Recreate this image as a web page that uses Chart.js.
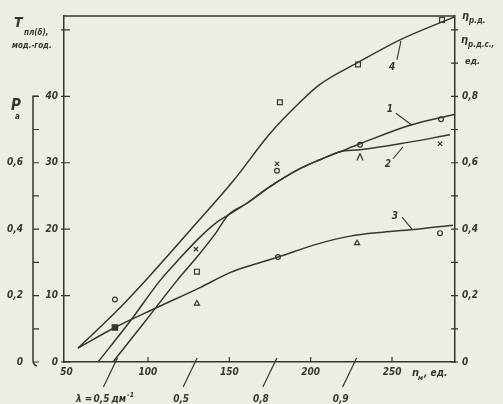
<!DOCTYPE html>
<html>
<head>
<meta charset="utf-8">
<script src="https://cdn.jsdelivr.net/npm/chart.js@4.4.0/dist/chart.umd.min.js"></script>
<style>
    html, body { margin: 0; padding: 0; background: #eeede3; }
    #wrap { width: 503px; height: 404px; }
</style>
</head>
<body>
<div id="wrap"><canvas id="chart" width="503" height="404"></canvas></div>
<script>
// n_m, units (x) and the curves
const curve4N = [57.0, 79.7, 101.2, 125.8, 152.2, 175.0, 193.4, 205.7, 229.1, 254.9, 288.7];
const curve4T = [2.1, 7.4, 13.0, 19.8, 27.2, 34.4, 39.1, 41.8, 45.1, 48.5, 52.0];

const curve1N = [69.3, 88.9, 107.4, 119.7, 132.0, 142.4, 149.2, 160.8, 175.0, 193.4, 205.7, 218.0, 230.3, 261.0, 288.7];
const curve1Eta = [0, 0.122, 0.245, 0.313, 0.376, 0.421, 0.442, 0.478, 0.528, 0.582, 0.609, 0.633, 0.657, 0.713, 0.746];

const curve2N = [78.5, 98.2, 117.8, 130.1, 141.2, 149.2, 160.8, 175.0, 193.4, 205.7, 218.0, 230.3, 254.9, 285.6];
const curve2Eta = [0, 0.122, 0.245, 0.316, 0.385, 0.442, 0.478, 0.528, 0.582, 0.609, 0.633, 0.639, 0.657, 0.684];

const curve3N = [57.0, 79.7, 105.5, 132.0, 150.4, 162.7, 179.9, 203.9, 224.2, 244.4, 265.3, 287.5];
const curve3Pa = [0.042, 0.104, 0.164, 0.224, 0.269, 0.290, 0.316, 0.355, 0.379, 0.391, 0.400, 0.412];

// measured points
const circleN = [79.7, 179.3, 179.9, 230.3, 280.1, 279.5];
const circleEta = [0.188, 0.576, 0.316, 0.654, 0.731, 0.388];
const squareN = [130.1, 181.1, 229.1, 280.7];
const squareEta = [0.272, 0.782, 0.896, 1.03];
const triangleN = [130.1, 228.5];
const triangleEta = [0.176, 0.358];
const crossN = [129.5, 179.3, 279.5];
const crossEta = [0.340, 0.597, 0.657];
const caretN = [230.3];
const caretEta = [0.618];
const filledN = [79.7];
const filledEta = [0.104];

// ticks
const xTicks = [50, 100, 150, 200, 250];
const xMarks = [100, 150, 200, 250];
const tTicks = [0, 10, 20, 30, 40, 50];
const tLabels = [0, 10, 20, 30, 40];
const etaTicks = [0, 0.1, 0.2, 0.3, 0.4, 0.5, 0.6, 0.7, 0.8, 0.9, 1.0];
const etaLabels = [0, 0.2, 0.4, 0.6, 0.8];
const paTicks = [0, 0.1, 0.2, 0.3, 0.4, 0.5, 0.6, 0.7, 0.8];
const paLabels = [0, 0.2, 0.4, 0.6];
const lambdaN = [80, 129, 178, 227];
const lambdaLabels = ['0,5', '0,5', '0,8', '0,9'];

const ink = '#36352f';
const paper = '#eeede3';
const fontFamily = '"Liberation Sans Narrow", "DejaVu Sans Condensed", "Liberation Sans", sans-serif';

function pts(xs, ys) {
    return xs.map((x, i) => ({ x: x, y: ys[i] }));
}

function comma(v) {
    return v === 0 ? '0' : v.toFixed(1).replace('.', ',');
}

function hasValue(list, v) {
    return list.some(l => Math.abs(l - v) < 1e-6);
}

// caret marker
const caret = document.createElement('canvas');
caret.width = 8;
caret.height = 8;
(function() {
    const c = caret.getContext('2d');
    c.strokeStyle = ink;
    c.lineWidth = 1.3;
    c.beginPath();
    c.moveTo(1, 7.5);
    c.lineTo(4, 0.8);
    c.lineTo(7, 7.5);
    c.stroke();
})();

function curve(data, axis) {
    return {
        data: data,
        yAxisID: axis,
        showLine: true,
        borderColor: ink,
        borderWidth: 1.5,
        pointRadius: 0,
        cubicInterpolationMode: 'monotone',
        clip: false
    };
}

function marks(data, style, radius, fill) {
    return {
        data: data,
        yAxisID: 'eta',
        showLine: false,
        pointStyle: style,
        pointRadius: radius,
        borderColor: ink,
        borderWidth: 1.2,
        backgroundColor: fill || paper,
        clip: false
    };
}

function label(ctx, s, x, y, size) {
    ctx.font = 'italic bold ' + size + 'px ' + fontFamily;
    ctx.fillText(s, x, y);
}

const decor = {
    id: 'decor',
    beforeDraw(chart) {
        const ctx = chart.ctx;
        ctx.save();
        ctx.fillStyle = paper;
        ctx.fillRect(0, 0, chart.width, chart.height);
        ctx.restore();
    },
    afterDraw(chart) {
        const ctx = chart.ctx;
        const a = chart.chartArea;
        const sx = chart.scales.x, sT = chart.scales.T, sE = chart.scales.eta, sP = chart.scales.pa;
        const X = v => sx.getPixelForValue(v);
        const E = v => sE.getPixelForValue(v);
        ctx.save();
        ctx.strokeStyle = ink;
        ctx.fillStyle = ink;
        ctx.lineWidth = 1.5;

        // top frame line
        ctx.beginPath();
        ctx.moveTo(a.left, a.top);
        ctx.lineTo(a.right, a.top);
        ctx.stroke();

        ctx.lineWidth = 1.2;
        ctx.beginPath();
        xMarks.forEach(v => { ctx.moveTo(X(v), a.bottom); ctx.lineTo(X(v), a.bottom - 5); });
        tTicks.forEach(v => { const y = sT.getPixelForValue(v); ctx.moveTo(a.left - 3, y); ctx.lineTo(a.left + 6, y); });
        etaTicks.forEach(v => { const y = E(v); ctx.moveTo(a.right - 4, y); ctx.lineTo(a.right + 3, y); });
        ctx.stroke();

        // P_a axis line with bracket ends
        const px = sP.right;
        const pTop = sP.getPixelForValue(0.8), pBot = sP.getPixelForValue(0);
        ctx.lineWidth = 1.5;
        ctx.beginPath();
        ctx.moveTo(px + 5, pTop);
        ctx.lineTo(px, pTop);
        ctx.lineTo(px, pBot - 2);
        ctx.quadraticCurveTo(px, pBot + 3, px + 4, pBot + 4);
        ctx.stroke();
        ctx.lineWidth = 1.2;
        ctx.beginPath();
        paTicks.forEach(v => { const y = sP.getPixelForValue(v); ctx.moveTo(px, y); ctx.lineTo(px + 6, y); });
        ctx.stroke();

        // lambda scale: slanted strokes across the x axis
        ctx.beginPath();
        lambdaN.forEach(v => {
            const x = X(v);
            ctx.moveTo(x + 2, a.bottom - 4);
            ctx.lineTo(x - 12, a.bottom + 25);
        });
        ctx.stroke();
        ctx.font = 'italic bold 10px ' + fontFamily;
        ctx.textBaseline = 'alphabetic';
        lambdaLabels.forEach((s, i) => {
            const x = X(lambdaN[i]) - 14;
            if (i === 0) {
                ctx.textAlign = 'right';
                ctx.fillText('λ = ', x - 6, 402);
                ctx.textAlign = 'center';
                ctx.fillText(s, x, 402);
                ctx.textAlign = 'left';
                ctx.fillText('дм', x + 10, 402);
                const w = ctx.measureText('дм').width;
                ctx.font = 'italic bold 7px ' + fontFamily;
                ctx.fillText('-1', x + 11 + w, 397);
                ctx.font = 'italic bold 10px ' + fontFamily;
            } else {
                ctx.textAlign = 'center';
                ctx.fillText(s, x, 402);
            }
        });

        // curve numbers with leaders
        const tags = [
            { t: '4', n: 250.0, e: 0.887, l: [253.0, 0.910, 255.5, 0.967] },
            { t: '1', n: 248.7, e: 0.761, l: [252.4, 0.749, 262.3, 0.713] },
            { t: '2', n: 247.5, e: 0.594, l: [250.6, 0.612, 256.7, 0.648] },
            { t: '3', n: 251.8, e: 0.439, l: [256.1, 0.436, 262.3, 0.400] }
        ];
        ctx.font = 'italic bold 10px ' + fontFamily;
        ctx.textAlign = 'center';
        ctx.textBaseline = 'middle';
        ctx.lineWidth = 1.1;
        tags.forEach(g => {
            ctx.fillText(g.t, X(g.n), E(g.e));
            ctx.beginPath();
            ctx.moveTo(X(g.l[0]), E(g.l[1]));
            ctx.lineTo(X(g.l[2]), E(g.l[3]));
            ctx.stroke();
        });

        // axis titles
        ctx.textAlign = 'left';
        ctx.textBaseline = 'alphabetic';
        label(ctx, 'T', 14, 27, 14);
        label(ctx, 'пл(δ),', 24, 35, 8);
        label(ctx, 'мод.-год.', 12, 48, 8);

        label(ctx, 'P', 11, 110, 15);
        label(ctx, 'a', 15, 119, 8);

        label(ctx, 'η', 462, 19, 11);
        label(ctx, 'р.д.', 469, 23, 8);
        label(ctx, 'η', 461, 43, 11);
        label(ctx, 'р.д.с.,', 468, 47, 8);
        label(ctx, 'ед.', 465, 64, 9);

        label(ctx, 'n', 412, 376, 11);
        label(ctx, 'м', 418, 380, 7);
        label(ctx, ', ед.', 424, 376, 10);
        ctx.restore();
    }
};

const tickFont = { family: fontFamily, size: 10, style: 'italic', weight: 'bold' };

new Chart(document.getElementById('chart'), {
    type: 'scatter',
    data: {
        datasets: [
            curve(pts(curve4N, curve4T), 'T'),
            curve(pts(curve1N, curve1Eta), 'eta'),
            curve(pts(curve2N, curve2Eta), 'eta'),
            curve(pts(curve3N, curve3Pa), 'pa'),
            marks(pts(circleN, circleEta), 'circle', 2.4),
            marks(pts(squareN, squareEta), 'rect', 3.4),
            marks(pts(triangleN, triangleEta), 'triangle', 3.0),
            marks(pts(crossN, crossEta), 'crossRot', 3.0),
            marks(pts(caretN, caretEta), caret, 4),
            marks(pts(filledN, filledEta), 'rect', 3.8, ink)
        ]
    },
    options: {
        responsive: false,
        animation: false,
        devicePixelRatio: 1,
        layout: { padding: { top: 13, left: 0, right: 0, bottom: 0 } },
        plugins: { legend: { display: false }, tooltip: { enabled: false } },
        scales: {
            x: {
                type: 'linear',
                min: 48.4,
                max: 288.7,
                grid: { display: false, drawTicks: false },
                border: { display: true, color: ink, width: 1.5 },
                ticks: { color: ink, font: tickFont, padding: 4, autoSkip: false, maxRotation: 0 },
                afterBuildTicks: s => { s.ticks = xTicks.map(v => ({ value: v })); },
                afterFit: s => { s.height = 42; }
            },
            T: {
                type: 'linear',
                position: 'left',
                weight: 0,
                min: 0,
                max: 52.09,
                grid: { display: false, drawTicks: false },
                border: { display: true, color: ink, width: 1.5 },
                ticks: {
                    color: ink, font: tickFont, padding: 6, autoSkip: false,
                    callback: v => hasValue(tLabels, v) ? String(v) : ''
                },
                afterBuildTicks: s => { s.ticks = tTicks.map(v => ({ value: v })); },
                afterFit: s => { s.width = 31; }
            },
            pa: {
                type: 'linear',
                position: 'left',
                weight: 1,
                min: 0,
                max: 1.0418,
                grid: { display: false, drawTicks: false },
                border: { display: false },
                ticks: {
                    color: ink, font: tickFont, padding: 10, autoSkip: false,
                    callback: v => hasValue(paLabels, v) ? comma(v) : ''
                },
                afterBuildTicks: s => { s.ticks = paTicks.map(v => ({ value: v })); },
                afterFit: s => { s.width = 33; }
            },
            eta: {
                type: 'linear',
                position: 'right',
                min: 0,
                max: 1.0418,
                grid: { display: false, drawTicks: false },
                border: { display: true, color: ink, width: 1.5 },
                ticks: {
                    color: ink, font: tickFont, padding: 7, autoSkip: false,
                    callback: v => hasValue(etaLabels, v) ? comma(v) : ''
                },
                afterBuildTicks: s => { s.ticks = etaTicks.map(v => ({ value: v })); },
                afterFit: s => { s.width = 48; }
            }
        }
    },
    plugins: [decor]
});
</script>
</body>
</html>
